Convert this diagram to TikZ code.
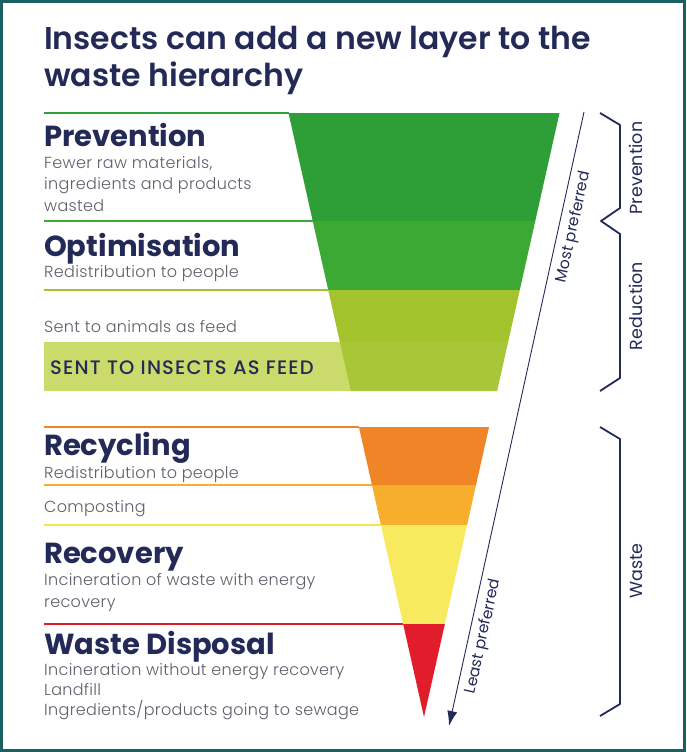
\documentclass[tikz,border=0pt]{standalone}
\usepackage{fontspec}
\setmainfont{Poppins}
\IfFontExistsTF{Poppins Light}{\newfontfamily\lightfont{Poppins Light}[LetterSpace=2]}{\newfontfamily\lightfont{Poppins}[LetterSpace=2]}
\IfFontExistsTF{Poppins SemiBold}{\newfontfamily\semifont{Poppins SemiBold}}{\newcommand\semifont{\bfseries}}
\IfFontExistsTF{Poppins Medium}{\newfontfamily\medfont{Poppins Medium}[LetterSpace=6]}{\newfontfamily\medfont{Poppins}[LetterSpace=6]}
\usetikzlibrary{arrows.meta}

\definecolor{navy}{HTML}{232A57}
\definecolor{bodygray}{HTML}{5E5F6A}
\definecolor{framecol}{HTML}{1C5E63}
\definecolor{cPrev}{HTML}{2E9E36}
\definecolor{cOpt}{HTML}{3DA935}
\definecolor{cAnim}{HTML}{A3C42C}
\definecolor{cIns}{HTML}{A8C637}
\definecolor{cInsBand}{HTML}{CBDB6B}
\definecolor{cRec}{HTML}{EF8527}
\definecolor{cComp}{HTML}{F6AE2C}
\definecolor{cRcv}{HTML}{F8EA5E}
\definecolor{cRcvLine}{HTML}{F8E44A}
\definecolor{cDisp}{HTML}{E21D2B}

\tikzstyle{title}=[anchor=base west, inner sep=0pt, text=navy,
font=\semifont\fontsize{31.5}{36}\selectfont]
\tikzstyle{heading}=[anchor=base west, inner sep=0pt, text=navy,
font=\bfseries\fontsize{29}{32}\selectfont]
\tikzstyle{body}=[anchor=base west, inner sep=0pt, text=bodygray,
font=\lightfont\fontsize{16}{19}\selectfont]
\tikzstyle{sidelabel}=[inner sep=0pt, text=navy, rotate=90,
font=\fontsize{17.5}{20}\selectfont]
\tikzstyle{arrowlabel}=[inner sep=0pt, text=navy, rotate=77.56,
font=\fontsize{15.5}{18}\selectfont]
\tikzstyle{brace}=[draw=navy, line width=1.8pt, line join=round]

% half width of the funnel at height y
\newcommand{\fl}[1]{{424-0.22434*(717-#1)}}
\newcommand{\fr}[1]{{424+0.22434*(717-#1)}}

\begin{document}
\begin{tikzpicture}[x=1pt, y=-1pt]
  \useasboundingbox (0,0) rectangle (686,752);
  \fill[white] (0,0) rectangle (686,752);
  \draw[framecol, line width=3pt] (1.5,1.5) rectangle (684.5,750.5);

  % Title
  \node (t1) at (44,49) [title] {Insects can add a new layer to the};
  \node (t2) at (44,86) [title] {waste hierarchy};

  % Insects band
  \fill[cInsBand] (44,342) rectangle (400,391);

  % Funnel
  \foreach \ya/\yb/\col in {113/221/cPrev, 221/290/cOpt, 290/342/cAnim,
    342/391/cIns, 427/485/cRec, 485/525/cComp, 525/624/cRcv, 624/717/cDisp}
    \fill[\col] (\fl{\ya},\ya) -- (\fr{\ya},\ya) -- (\fr{\yb},\yb)
      -- (\fl{\yb},\yb) -- cycle;

  % Left rules
  \foreach \yy/\col in {113/cPrev, 221/cOpt, 290/cAnim, 427/cRec,
    485/cComp, 525/cRcvLine, 624/cDisp}
    \draw[\col, line width=2pt] (44,\yy) -- (\fl{\yy},\yy);

  % Upper labels
  \node (prev) at (44,146) [heading] {Prevention};
  \node (prev1) at (44,168) [body] {Fewer raw materials,};
  \node (prev2) at (44,189) [body] {ingredients and products};
  \node (prev3) at (44,211) [body] {wasted};
  \node (opt) at (44,256) [heading] {Optimisation};
  \node (opt1) at (44,277) [body] {Redistribution to people};
  \node (anim) at (44,332) [body] {Sent to animals as feed};
  \node (ins) at (50,374) [anchor=base west, inner sep=0pt, text=navy,
    font=\medfont\fontsize{19.5}{22}\selectfont] {SENT TO INSECTS AS FEED};

  % Lower labels
  \node (rec) at (44,455) [heading] {Recycling};
  \node (rec1) at (44,478) [body] {Redistribution to people};
  \node (comp) at (44,512) [body] {Composting};
  \node (rcv) at (44,563) [heading] {Recovery};
  \node (rcv1) at (44,585) [body] {Incineration of waste with energy};
  \node (rcv2) at (44,607) [body] {recovery};
  \node (disp) at (44,654) [heading] {Waste Disposal};
  \node (disp1) at (44,675) [body] {Incineration without energy recovery};
  \node (disp2) at (44,695) [body] {Landfill};
  \node (disp3) at (44,715) [body] {Ingredients/products going to sewage};

  % Preference arrow
  \coordinate (most) at (584,112);
  \coordinate (least) at (449,726);
  \draw[navy, line width=0.9pt, -{Latex[length=15pt, width=10pt]}] (most) -- (least);
  \node (mostp) at (574,227) [arrowlabel] {Most preferred};
  \node (leastp) at (483.5,636.5) [arrowlabel] {Least preferred};

  % Side braces
  \draw[brace] (600,113) -- (620,125) -- (620,208) -- (601,221)
    -- (620,234) -- (620,378) -- (600,391);
  \draw[brace] (600,427) -- (620,439) -- (620,704) -- (600,716);
  \node (sprev) at (636,168) [sidelabel] {Prevention};
  \node (sred) at (636,306) [sidelabel] {Reduction};
  \node (swaste) at (636,571) [sidelabel] {Waste};
\end{tikzpicture}
\end{document}
